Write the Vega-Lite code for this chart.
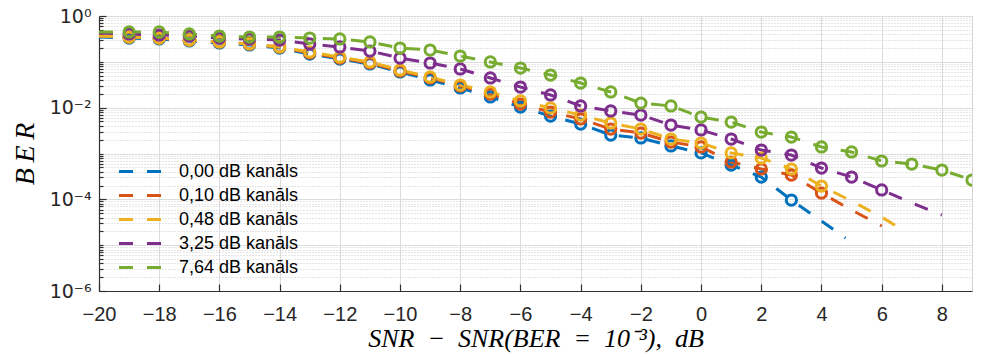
{
  "$schema": "https://vega.github.io/schema/vega-lite/v6.json",
  "width": 873,
  "height": 275,
  "autosize": {"type": "none"},
  "padding": {"left": 99, "top": 16, "right": 10, "bottom": 66},
  "background": "white",
  "config": {
    "view": {"stroke": "#d4d4d4", "strokeWidth": 1},
    "font": "Liberation Sans",
    "axis": {
      "labelFont": "Liberation Sans",
      "labelFontSize": 20,
      "labelColor": "#262626",
      "labelOverlap": false,
      "labelFlush": false,
      "domainColor": "#303030",
      "domainWidth": 1.2,
      "tickColor": "#303030",
      "tickWidth": 1.2,
      "titleFont": "Liberation Serif",
      "titleFontStyle": "italic",
      "titleFontWeight": "normal",
      "titleFontSize": 26,
      "titleColor": "#000000"
    }
  },
  "datasets": {
    "theory": [
      {"s": "0,00 dB kanāls", "x": -20, "ber": 0.348},
      {"s": "0,00 dB kanāls", "x": -19, "ber": 0.331},
      {"s": "0,00 dB kanāls", "x": -18, "ber": 0.315},
      {"s": "0,00 dB kanāls", "x": -17, "ber": 0.285},
      {"s": "0,00 dB kanāls", "x": -16, "ber": 0.258},
      {"s": "0,00 dB kanāls", "x": -15, "ber": 0.233},
      {"s": "0,00 dB kanāls", "x": -14, "ber": 0.2},
      {"s": "0,00 dB kanāls", "x": -13, "ber": 0.148},
      {"s": "0,00 dB kanāls", "x": -12, "ber": 0.115},
      {"s": "0,00 dB kanāls", "x": -11, "ber": 0.0897},
      {"s": "0,00 dB kanāls", "x": -10, "ber": 0.06},
      {"s": "0,00 dB kanāls", "x": -9, "ber": 0.0402},
      {"s": "0,00 dB kanāls", "x": -8, "ber": 0.0269},
      {"s": "0,00 dB kanāls", "x": -7, "ber": 0.0171},
      {"s": "0,00 dB kanāls", "x": -6, "ber": 0.0103},
      {"s": "0,00 dB kanāls", "x": -5, "ber": 0.00657},
      {"s": "0,00 dB kanāls", "x": -4, "ber": 0.0044},
      {"s": "0,00 dB kanāls", "x": -3, "ber": 0.00253},
      {"s": "0,00 dB kanāls", "x": -2, "ber": 0.00218},
      {"s": "0,00 dB kanāls", "x": -1, "ber": 0.00146},
      {"s": "0,00 dB kanāls", "x": 0, "ber": 0.00103},
      {"s": "0,00 dB kanāls", "x": 1, "ber": 0.000561},
      {"s": "0,00 dB kanāls", "x": 2, "ber": 0.000307},
      {"s": "0,00 dB kanāls", "x": 3, "ber": 0.0000966},
      {"s": "0,00 dB kanāls", "x": 4, "ber": 0.0000337},
      {"s": "0,00 dB kanāls", "x": 4.8, "ber": 0.0000143},

      {"s": "0,10 dB kanāls", "x": -20, "ber": 0.366},
      {"s": "0,10 dB kanāls", "x": -19, "ber": 0.348},
      {"s": "0,10 dB kanāls", "x": -18, "ber": 0.331},
      {"s": "0,10 dB kanāls", "x": -17, "ber": 0.299},
      {"s": "0,10 dB kanāls", "x": -16, "ber": 0.271},
      {"s": "0,10 dB kanāls", "x": -15, "ber": 0.245},
      {"s": "0,10 dB kanāls", "x": -14, "ber": 0.211},
      {"s": "0,10 dB kanāls", "x": -13, "ber": 0.156},
      {"s": "0,10 dB kanāls", "x": -12, "ber": 0.121},
      {"s": "0,10 dB kanāls", "x": -11, "ber": 0.0943},
      {"s": "0,10 dB kanāls", "x": -10, "ber": 0.0631},
      {"s": "0,10 dB kanāls", "x": -9, "ber": 0.0444},
      {"s": "0,10 dB kanāls", "x": -8, "ber": 0.0297},
      {"s": "0,10 dB kanāls", "x": -7, "ber": 0.0199},
      {"s": "0,10 dB kanāls", "x": -6, "ber": 0.012},
      {"s": "0,10 dB kanāls", "x": -5, "ber": 0.00804},
      {"s": "0,10 dB kanāls", "x": -4, "ber": 0.00566},
      {"s": "0,10 dB kanāls", "x": -3, "ber": 0.00342},
      {"s": "0,10 dB kanāls", "x": -2, "ber": 0.0028},
      {"s": "0,10 dB kanāls", "x": -1, "ber": 0.00178},
      {"s": "0,10 dB kanāls", "x": 0, "ber": 0.00139},
      {"s": "0,10 dB kanāls", "x": 1, "ber": 0.000652},
      {"s": "0,10 dB kanāls", "x": 2, "ber": 0.000459},
      {"s": "0,10 dB kanāls", "x": 3, "ber": 0.000339},
      {"s": "0,10 dB kanāls", "x": 4, "ber": 0.000137},
      {"s": "0,10 dB kanāls", "x": 5, "ber": 0.0000585},
      {"s": "0,10 dB kanāls", "x": 6, "ber": 0.0000262},

      {"s": "0,48 dB kanāls", "x": -20, "ber": 0.366},
      {"s": "0,48 dB kanāls", "x": -19, "ber": 0.348},
      {"s": "0,48 dB kanāls", "x": -18, "ber": 0.331},
      {"s": "0,48 dB kanāls", "x": -17, "ber": 0.299},
      {"s": "0,48 dB kanāls", "x": -16, "ber": 0.271},
      {"s": "0,48 dB kanāls", "x": -15, "ber": 0.245},
      {"s": "0,48 dB kanāls", "x": -14, "ber": 0.211},
      {"s": "0,48 dB kanāls", "x": -13, "ber": 0.164},
      {"s": "0,48 dB kanāls", "x": -12, "ber": 0.127},
      {"s": "0,48 dB kanāls", "x": -11, "ber": 0.0992},
      {"s": "0,48 dB kanāls", "x": -10, "ber": 0.0664},
      {"s": "0,48 dB kanāls", "x": -9, "ber": 0.0467},
      {"s": "0,48 dB kanāls", "x": -8, "ber": 0.0312},
      {"s": "0,48 dB kanāls", "x": -7, "ber": 0.022},
      {"s": "0,48 dB kanāls", "x": -6, "ber": 0.014},
      {"s": "0,48 dB kanāls", "x": -5, "ber": 0.00984},
      {"s": "0,48 dB kanāls", "x": -4, "ber": 0.00691},
      {"s": "0,48 dB kanāls", "x": -3, "ber": 0.00462},
      {"s": "0,48 dB kanāls", "x": -2, "ber": 0.00342},
      {"s": "0,48 dB kanāls", "x": -1, "ber": 0.00207},
      {"s": "0,48 dB kanāls", "x": 0, "ber": 0.00169},
      {"s": "0,48 dB kanāls", "x": 1, "ber": 0.00103},
      {"s": "0,48 dB kanāls", "x": 2, "ber": 0.000797},
      {"s": "0,48 dB kanāls", "x": 3, "ber": 0.000459},
      {"s": "0,48 dB kanāls", "x": 4, "ber": 0.000195},
      {"s": "0,48 dB kanāls", "x": 5, "ber": 0.0000918},
      {"s": "0,48 dB kanāls", "x": 6, "ber": 0.0000411},
      {"s": "0,48 dB kanāls", "x": 6.8, "ber": 0.0000194},

      {"s": "3,25 dB kanāls", "x": -20, "ber": 0.426},
      {"s": "3,25 dB kanāls", "x": -19, "ber": 0.405},
      {"s": "3,25 dB kanāls", "x": -18, "ber": 0.385},
      {"s": "3,25 dB kanāls", "x": -17, "ber": 0.366},
      {"s": "3,25 dB kanāls", "x": -16, "ber": 0.331},
      {"s": "3,25 dB kanāls", "x": -15, "ber": 0.315},
      {"s": "3,25 dB kanāls", "x": -14, "ber": 0.299},
      {"s": "3,25 dB kanāls", "x": -13, "ber": 0.245},
      {"s": "3,25 dB kanāls", "x": -12, "ber": 0.211},
      {"s": "3,25 dB kanāls", "x": -11, "ber": 0.172},
      {"s": "3,25 dB kanāls", "x": -10, "ber": 0.121},
      {"s": "3,25 dB kanāls", "x": -9, "ber": 0.0943},
      {"s": "3,25 dB kanāls", "x": -8, "ber": 0.0698},
      {"s": "3,25 dB kanāls", "x": -7, "ber": 0.0444},
      {"s": "3,25 dB kanāls", "x": -6, "ber": 0.0282},
      {"s": "3,25 dB kanāls", "x": -5, "ber": 0.0189},
      {"s": "3,25 dB kanāls", "x": -4, "ber": 0.0109},
      {"s": "3,25 dB kanāls", "x": -3, "ber": 0.00846},
      {"s": "3,25 dB kanāls", "x": -2, "ber": 0.00691},
      {"s": "3,25 dB kanāls", "x": -1, "ber": 0.00418},
      {"s": "3,25 dB kanāls", "x": 0, "ber": 0.00326},
      {"s": "3,25 dB kanāls", "x": 1, "ber": 0.00207},
      {"s": "3,25 dB kanāls", "x": 2, "ber": 0.00119},
      {"s": "3,25 dB kanāls", "x": 3, "ber": 0.000927},
      {"s": "3,25 dB kanāls", "x": 4, "ber": 0.000482},
      {"s": "3,25 dB kanāls", "x": 5, "ber": 0.000307},
      {"s": "3,25 dB kanāls", "x": 6, "ber": 0.00016},
      {"s": "3,25 dB kanāls", "x": 7, "ber": 0.0000831},
      {"s": "3,25 dB kanāls", "x": 8, "ber": 0.0000455},

      {"s": "7,64 dB kanāls", "x": -20, "ber": 0.448},
      {"s": "7,64 dB kanāls", "x": -19, "ber": 0.448},
      {"s": "7,64 dB kanāls", "x": -18, "ber": 0.448},
      {"s": "7,64 dB kanāls", "x": -17, "ber": 0.405},
      {"s": "7,64 dB kanāls", "x": -16, "ber": 0.366},
      {"s": "7,64 dB kanāls", "x": -15, "ber": 0.348},
      {"s": "7,64 dB kanāls", "x": -14, "ber": 0.348},
      {"s": "7,64 dB kanāls", "x": -13, "ber": 0.331},
      {"s": "7,64 dB kanāls", "x": -12, "ber": 0.315},
      {"s": "7,64 dB kanāls", "x": -11, "ber": 0.271},
      {"s": "7,64 dB kanāls", "x": -10, "ber": 0.2},
      {"s": "7,64 dB kanāls", "x": -9, "ber": 0.181},
      {"s": "7,64 dB kanāls", "x": -8, "ber": 0.134},
      {"s": "7,64 dB kanāls", "x": -7, "ber": 0.0992},
      {"s": "7,64 dB kanāls", "x": -6, "ber": 0.0733},
      {"s": "7,64 dB kanāls", "x": -5, "ber": 0.0516},
      {"s": "7,64 dB kanāls", "x": -4, "ber": 0.0345},
      {"s": "7,64 dB kanāls", "x": -3, "ber": 0.022},
      {"s": "7,64 dB kanāls", "x": -2, "ber": 0.0126},
      {"s": "7,64 dB kanāls", "x": -1, "ber": 0.0109},
      {"s": "7,64 dB kanāls", "x": 0, "ber": 0.00625},
      {"s": "7,64 dB kanāls", "x": 1, "ber": 0.00486},
      {"s": "7,64 dB kanāls", "x": 2, "ber": 0.00294},
      {"s": "7,64 dB kanāls", "x": 3, "ber": 0.00229},
      {"s": "7,64 dB kanāls", "x": 4, "ber": 0.00139},
      {"s": "7,64 dB kanāls", "x": 5, "ber": 0.00108},
      {"s": "7,64 dB kanāls", "x": 6, "ber": 0.000686},
      {"s": "7,64 dB kanāls", "x": 7, "ber": 0.00059},
      {"s": "7,64 dB kanāls", "x": 8, "ber": 0.000436},
      {"s": "7,64 dB kanāls", "x": 9, "ber": 0.000264}
    ],
    "sim": [
      {"s": "0,00 dB kanāls", "x": -19, "ber": 0.331},
      {"s": "0,00 dB kanāls", "x": -18, "ber": 0.315},
      {"s": "0,00 dB kanāls", "x": -17, "ber": 0.285},
      {"s": "0,00 dB kanāls", "x": -16, "ber": 0.258},
      {"s": "0,00 dB kanāls", "x": -15, "ber": 0.233},
      {"s": "0,00 dB kanāls", "x": -14, "ber": 0.2},
      {"s": "0,00 dB kanāls", "x": -13, "ber": 0.148},
      {"s": "0,00 dB kanāls", "x": -12, "ber": 0.115},
      {"s": "0,00 dB kanāls", "x": -11, "ber": 0.0897},
      {"s": "0,00 dB kanāls", "x": -10, "ber": 0.06},
      {"s": "0,00 dB kanāls", "x": -9, "ber": 0.0402},
      {"s": "0,00 dB kanāls", "x": -8, "ber": 0.0269},
      {"s": "0,00 dB kanāls", "x": -7, "ber": 0.0171},
      {"s": "0,00 dB kanāls", "x": -6, "ber": 0.0103},
      {"s": "0,00 dB kanāls", "x": -5, "ber": 0.00657},
      {"s": "0,00 dB kanāls", "x": -4, "ber": 0.0044},
      {"s": "0,00 dB kanāls", "x": -3, "ber": 0.00253},
      {"s": "0,00 dB kanāls", "x": -2, "ber": 0.00218},
      {"s": "0,00 dB kanāls", "x": -1, "ber": 0.00146},
      {"s": "0,00 dB kanāls", "x": 0, "ber": 0.00103},
      {"s": "0,00 dB kanāls", "x": 1, "ber": 0.000561},
      {"s": "0,00 dB kanāls", "x": 2, "ber": 0.000307},
      {"s": "0,00 dB kanāls", "x": 3, "ber": 0.0000966},

      {"s": "0,10 dB kanāls", "x": -19, "ber": 0.348},
      {"s": "0,10 dB kanāls", "x": -18, "ber": 0.331},
      {"s": "0,10 dB kanāls", "x": -17, "ber": 0.299},
      {"s": "0,10 dB kanāls", "x": -16, "ber": 0.271},
      {"s": "0,10 dB kanāls", "x": -15, "ber": 0.245},
      {"s": "0,10 dB kanāls", "x": -14, "ber": 0.211},
      {"s": "0,10 dB kanāls", "x": -13, "ber": 0.156},
      {"s": "0,10 dB kanāls", "x": -12, "ber": 0.121},
      {"s": "0,10 dB kanāls", "x": -11, "ber": 0.0943},
      {"s": "0,10 dB kanāls", "x": -10, "ber": 0.0631},
      {"s": "0,10 dB kanāls", "x": -9, "ber": 0.0444},
      {"s": "0,10 dB kanāls", "x": -8, "ber": 0.0297},
      {"s": "0,10 dB kanāls", "x": -7, "ber": 0.0199},
      {"s": "0,10 dB kanāls", "x": -6, "ber": 0.012},
      {"s": "0,10 dB kanāls", "x": -5, "ber": 0.00804},
      {"s": "0,10 dB kanāls", "x": -4, "ber": 0.00566},
      {"s": "0,10 dB kanāls", "x": -3, "ber": 0.00342},
      {"s": "0,10 dB kanāls", "x": -2, "ber": 0.0028},
      {"s": "0,10 dB kanāls", "x": -1, "ber": 0.00178},
      {"s": "0,10 dB kanāls", "x": 0, "ber": 0.00139},
      {"s": "0,10 dB kanāls", "x": 1, "ber": 0.000652},
      {"s": "0,10 dB kanāls", "x": 2, "ber": 0.000459},
      {"s": "0,10 dB kanāls", "x": 3, "ber": 0.000339},
      {"s": "0,10 dB kanāls", "x": 4, "ber": 0.000137},

      {"s": "0,48 dB kanāls", "x": -19, "ber": 0.348},
      {"s": "0,48 dB kanāls", "x": -18, "ber": 0.331},
      {"s": "0,48 dB kanāls", "x": -17, "ber": 0.299},
      {"s": "0,48 dB kanāls", "x": -16, "ber": 0.271},
      {"s": "0,48 dB kanāls", "x": -15, "ber": 0.245},
      {"s": "0,48 dB kanāls", "x": -14, "ber": 0.211},
      {"s": "0,48 dB kanāls", "x": -13, "ber": 0.164},
      {"s": "0,48 dB kanāls", "x": -12, "ber": 0.127},
      {"s": "0,48 dB kanāls", "x": -11, "ber": 0.0992},
      {"s": "0,48 dB kanāls", "x": -10, "ber": 0.0664},
      {"s": "0,48 dB kanāls", "x": -9, "ber": 0.0467},
      {"s": "0,48 dB kanāls", "x": -8, "ber": 0.0312},
      {"s": "0,48 dB kanāls", "x": -7, "ber": 0.022},
      {"s": "0,48 dB kanāls", "x": -6, "ber": 0.014},
      {"s": "0,48 dB kanāls", "x": -5, "ber": 0.00984},
      {"s": "0,48 dB kanāls", "x": -4, "ber": 0.00691},
      {"s": "0,48 dB kanāls", "x": -3, "ber": 0.00462},
      {"s": "0,48 dB kanāls", "x": -2, "ber": 0.00342},
      {"s": "0,48 dB kanāls", "x": -1, "ber": 0.00207},
      {"s": "0,48 dB kanāls", "x": 0, "ber": 0.00169},
      {"s": "0,48 dB kanāls", "x": 1, "ber": 0.00103},
      {"s": "0,48 dB kanāls", "x": 2, "ber": 0.000797},
      {"s": "0,48 dB kanāls", "x": 3, "ber": 0.000459},
      {"s": "0,48 dB kanāls", "x": 4, "ber": 0.000195},

      {"s": "3,25 dB kanāls", "x": -19, "ber": 0.405},
      {"s": "3,25 dB kanāls", "x": -18, "ber": 0.385},
      {"s": "3,25 dB kanāls", "x": -17, "ber": 0.366},
      {"s": "3,25 dB kanāls", "x": -16, "ber": 0.331},
      {"s": "3,25 dB kanāls", "x": -15, "ber": 0.315},
      {"s": "3,25 dB kanāls", "x": -14, "ber": 0.299},
      {"s": "3,25 dB kanāls", "x": -13, "ber": 0.245},
      {"s": "3,25 dB kanāls", "x": -12, "ber": 0.211},
      {"s": "3,25 dB kanāls", "x": -11, "ber": 0.172},
      {"s": "3,25 dB kanāls", "x": -10, "ber": 0.121},
      {"s": "3,25 dB kanāls", "x": -9, "ber": 0.0943},
      {"s": "3,25 dB kanāls", "x": -8, "ber": 0.0698},
      {"s": "3,25 dB kanāls", "x": -7, "ber": 0.0444},
      {"s": "3,25 dB kanāls", "x": -6, "ber": 0.0282},
      {"s": "3,25 dB kanāls", "x": -5, "ber": 0.0189},
      {"s": "3,25 dB kanāls", "x": -4, "ber": 0.0109},
      {"s": "3,25 dB kanāls", "x": -3, "ber": 0.00846},
      {"s": "3,25 dB kanāls", "x": -2, "ber": 0.00691},
      {"s": "3,25 dB kanāls", "x": -1, "ber": 0.00418},
      {"s": "3,25 dB kanāls", "x": 0, "ber": 0.00326},
      {"s": "3,25 dB kanāls", "x": 1, "ber": 0.00207},
      {"s": "3,25 dB kanāls", "x": 2, "ber": 0.00119},
      {"s": "3,25 dB kanāls", "x": 3, "ber": 0.000927},
      {"s": "3,25 dB kanāls", "x": 4, "ber": 0.000482},
      {"s": "3,25 dB kanāls", "x": 5, "ber": 0.000307},
      {"s": "3,25 dB kanāls", "x": 6, "ber": 0.00016},

      {"s": "7,64 dB kanāls", "x": -19, "ber": 0.448},
      {"s": "7,64 dB kanāls", "x": -18, "ber": 0.448},
      {"s": "7,64 dB kanāls", "x": -17, "ber": 0.405},
      {"s": "7,64 dB kanāls", "x": -16, "ber": 0.366},
      {"s": "7,64 dB kanāls", "x": -15, "ber": 0.348},
      {"s": "7,64 dB kanāls", "x": -14, "ber": 0.348},
      {"s": "7,64 dB kanāls", "x": -13, "ber": 0.331},
      {"s": "7,64 dB kanāls", "x": -12, "ber": 0.315},
      {"s": "7,64 dB kanāls", "x": -11, "ber": 0.271},
      {"s": "7,64 dB kanāls", "x": -10, "ber": 0.2},
      {"s": "7,64 dB kanāls", "x": -9, "ber": 0.181},
      {"s": "7,64 dB kanāls", "x": -8, "ber": 0.134},
      {"s": "7,64 dB kanāls", "x": -7, "ber": 0.0992},
      {"s": "7,64 dB kanāls", "x": -6, "ber": 0.0733},
      {"s": "7,64 dB kanāls", "x": -5, "ber": 0.0516},
      {"s": "7,64 dB kanāls", "x": -4, "ber": 0.0345},
      {"s": "7,64 dB kanāls", "x": -3, "ber": 0.022},
      {"s": "7,64 dB kanāls", "x": -2, "ber": 0.0126},
      {"s": "7,64 dB kanāls", "x": -1, "ber": 0.0109},
      {"s": "7,64 dB kanāls", "x": 0, "ber": 0.00625},
      {"s": "7,64 dB kanāls", "x": 1, "ber": 0.00486},
      {"s": "7,64 dB kanāls", "x": 2, "ber": 0.00294},
      {"s": "7,64 dB kanāls", "x": 3, "ber": 0.00229},
      {"s": "7,64 dB kanāls", "x": 4, "ber": 0.00139},
      {"s": "7,64 dB kanāls", "x": 5, "ber": 0.00108},
      {"s": "7,64 dB kanāls", "x": 6, "ber": 0.000686},
      {"s": "7,64 dB kanāls", "x": 7, "ber": 0.00059},
      {"s": "7,64 dB kanāls", "x": 8, "ber": 0.000436},
      {"s": "7,64 dB kanāls", "x": 9, "ber": 0.000264}
    ]
  },
  "layer": [
    {
      "data": {"name": "theory"},
      "mark": {"type": "line", "strokeWidth": 3, "strokeDash": [14, 14], "clip": true},
      "encoding": {
        "x": {
          "field": "x",
          "type": "quantitative",
          "scale": {"domain": [-20, 9], "nice": false, "zero": false},
          "axis": {
            "values": [-20,-19.5,-19,-18.5,-18,-17.5,-17,-16.5,-16,-15.5,-15,-14.5,-14,-13.5,-13,-12.5,-12,-11.5,-11,-10.5,-10,-9.5,-9,-8.5,-8,-7.5,-7,-6.5,-6,-5.5,-5,-4.5,-4,-3.5,-3,-2.5,-2,-1.5,-1,-0.5,0,0.5,1,1.5,2,2.5,3,3.5,4,4.5,5,5.5,6,6.5,7,7.5,8,8.5],
            "labelExpr": "datum.value % 2 == 0 ? replace(format(datum.value, 'd'), '-', '−') : ''",
            "grid": true,
            "gridColor": {"condition": {"test": "datum.value % 2 == 0", "value": "#dcdcdc"}, "value": "#cbcbcb"},
            "gridDash": {"condition": {"test": "datum.value % 2 == 0", "value": []}, "value": [1, 2]},
            "gridWidth": 1,
            "tickSize": {"condition": {"test": "datum.value % 2 == 0", "value": -7}, "value": 0},
            "labelPadding": 20,
            "title": "SNR\u2002−\u2002SNR(BER\u2002=\u200210⁻³),\u2002dB",
            "titlePadding": 1
          }
        },
        "y": {
          "field": "ber",
          "type": "quantitative",
          "scale": {"type": "log", "domain": [0.000001, 1], "nice": false},
          "axis": {
            "values": [1,0.9,0.8,0.7,0.6,0.5,0.4,0.3,0.2,0.1,0.09,0.08,0.07,0.06,0.05,0.04,0.03,0.02,0.01,0.009,0.008,0.007,0.006,0.005,0.004,0.003,0.002,0.001,0.0009,0.0008,0.0007,0.0006,0.0005,0.0004,0.0003,0.0002,0.0001,0.00009,0.00008,0.00007,0.00006,0.00005,0.00004,0.00003,0.00002,0.00001,0.000009,0.000008,0.000007,0.000006,0.000005,0.000004,0.000003,0.000002,0.000001],
            "labelExpr": "(abs(log(datum.value)/LN10 - round(log(datum.value)/LN10)) < 0.001 && round(log(datum.value)/LN10) % 2 == 0) ? (round(log(datum.value)/LN10) == 0 ? '10⁰' : round(log(datum.value)/LN10) == -2 ? '10⁻²' : round(log(datum.value)/LN10) == -4 ? '10⁻⁴' : '10⁻⁶') : ''",
            "labelFont": "DejaVu Sans",
            "labelFontSize": 19,
            "grid": true,
            "gridColor": {"condition": {"test": "abs(log(datum.value)/LN10 - round(log(datum.value)/LN10)) < 0.001", "value": "#dcdcdc"}, "value": "#cbcbcb"},
            "gridDash": {"condition": {"test": "abs(log(datum.value)/LN10 - round(log(datum.value)/LN10)) < 0.001", "value": []}, "value": [1, 2]},
            "gridWidth": 1,
            "tickSize": {"condition": {"test": "abs(log(datum.value)/LN10 - round(log(datum.value)/LN10)) < 0.001 && round(log(datum.value)/LN10) % 2 == 0", "value": -7}, "value": -4},
            "labelPadding": 15,
            "labelBaseline": "middle",
            "title": "B\u2009E\u2009R",
            "titleFontSize": 28,
            "titlePadding": 10
          }
        },
        "color": {
          "field": "s",
          "type": "nominal",
          "scale": {
            "domain": ["0,00 dB kanāls", "0,10 dB kanāls", "0,48 dB kanāls", "3,25 dB kanāls", "7,64 dB kanāls"],
            "range": ["#0072BD", "#D95319", "#EDB120", "#7E2F8E", "#77AC30"]
          },
          "legend": {
            "title": null,
            "orient": "none",
            "legendX": 30,
            "legendY": 144,
            "padding": 0,
            "symbolType": "M-2.15,0H2.15",
            "symbolSize": 400,
            "symbolStrokeWidth": 3,
            "symbolDash": [14, 14],
            "symbolFillColor": "transparent",
            "labelFont": "Liberation Sans",
            "labelFontSize": 18,
            "labelColor": "#000000",
            "labelOffset": 27,
            "rowPadding": 3
          }
        }
      }
    },
    {
      "data": {"name": "sim"},
      "mark": {"type": "point", "shape": "circle", "filled": false, "size": 105, "strokeWidth": 3, "opacity": 1, "clip": true},
      "encoding": {
        "x": {"field": "x", "type": "quantitative"},
        "y": {"field": "ber", "type": "quantitative"},
        "stroke": {
          "field": "s",
          "type": "nominal",
          "scale": {
            "domain": ["0,00 dB kanāls", "0,10 dB kanāls", "0,48 dB kanāls", "3,25 dB kanāls", "7,64 dB kanāls"],
            "range": ["#0072BD", "#D95319", "#EDB120", "#7E2F8E", "#77AC30"]
          },
          "legend": null
        }
      }
    }
  ]
}
